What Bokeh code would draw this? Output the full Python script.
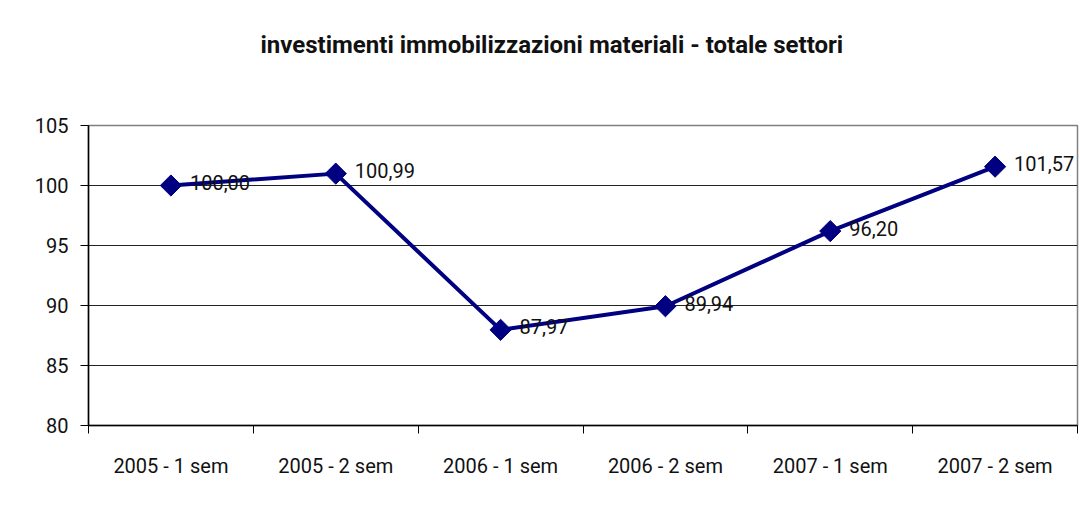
from bokeh.plotting import figure
from bokeh.models import ColumnDataSource, FixedTicker, Range1d, LabelSet, Title
from bokeh.core.properties import value
from bokeh.embed import file_html
from bokeh.resources import INLINE
import numpy as np

categories = ["2005 - 1 sem", "2005 - 2 sem", "2006 - 1 sem", "2006 - 2 sem", "2007 - 1 sem", "2007 - 2 sem"]
values = [100.00, 100.99, 87.97, 89.94, 96.20, 101.57]
y_ticks = [80, 85, 90, 95, 100, 105]
title_text = "investimenti immobilizzazioni materiali - totale settori"

FONT = "Roboto"
NAVY = "#000080"

xs = [i + 0.5 for i in range(len(categories))]
labels = [f"{v:.2f}".replace(".", ",") for v in values]
src = ColumnDataSource(dict(x=xs, y=values, lab=labels))

p = figure(width=1080, height=512, output_backend="svg", toolbar_location=None,
           x_range=Range1d(0, len(categories)), y_range=Range1d(80, 105),
           min_border_left=88, min_border_right=3, min_border_top=125, min_border_bottom=87,
           title=title_text)
p.background_fill_color = "white"
p.border_fill_color = "white"
p.outline_line_color = "#808080"
p.outline_line_width = 1.5

p.title.align = "left"
p.title.offset = 172
p.title.standoff = 0
p.title.text_font = FONT
p.title.text_font_style = "bold"
p.title.text_font_size = "24px"
p.title.text_color = "#111111"

# empty spacer panel between the title and the plot area
p.add_layout(Title(text=" ", text_font_size="24px", standoff=38), "above")

# axes
p.xaxis.ticker = FixedTicker(ticks=xs, minor_ticks=list(range(len(categories) + 1)))
p.xaxis.major_label_overrides = {x: c for x, c in zip(xs, categories)}
p.xaxis.major_tick_out = 0
p.xaxis.major_tick_in = 0
p.xaxis.minor_tick_out = 8
p.xaxis.minor_tick_in = 0
p.xaxis.minor_tick_line_color = "black"
p.xaxis.major_label_standoff = 20
p.yaxis.ticker = FixedTicker(ticks=y_ticks)
p.yaxis.minor_tick_line_color = None
p.yaxis.major_tick_out = 8
p.yaxis.major_tick_in = 0
p.yaxis.major_label_standoff = 12
for ax in (p.xaxis, p.yaxis):
    ax.axis_line_color = "black"
    ax.axis_line_width = 1.5
    ax.major_tick_line_color = "black"
    ax.major_label_text_font = FONT
    ax.major_label_text_font_size = "20px"
    ax.major_label_text_color = "#111111"

p.xgrid.grid_line_color = None
p.ygrid.ticker = FixedTicker(ticks=y_ticks[1:-1])
p.ygrid.grid_line_color = "#222222"
p.ygrid.grid_line_width = 1

p.line("x", "y", source=src, line_color=NAVY, line_width=4)
p.scatter("x", "y", source=src, marker="square", angle=np.pi / 4, size=15,
          fill_color=NAVY, line_color=NAVY)

p.add_layout(LabelSet(x="x", y="y", text="lab", source=src, x_offset=19, y_offset=3,
                      text_font=value(FONT), text_font_size="20px", text_color="#111111",
                      text_baseline="middle", text_align="left"))

open("out.html", "w").write(file_html(p, INLINE))
